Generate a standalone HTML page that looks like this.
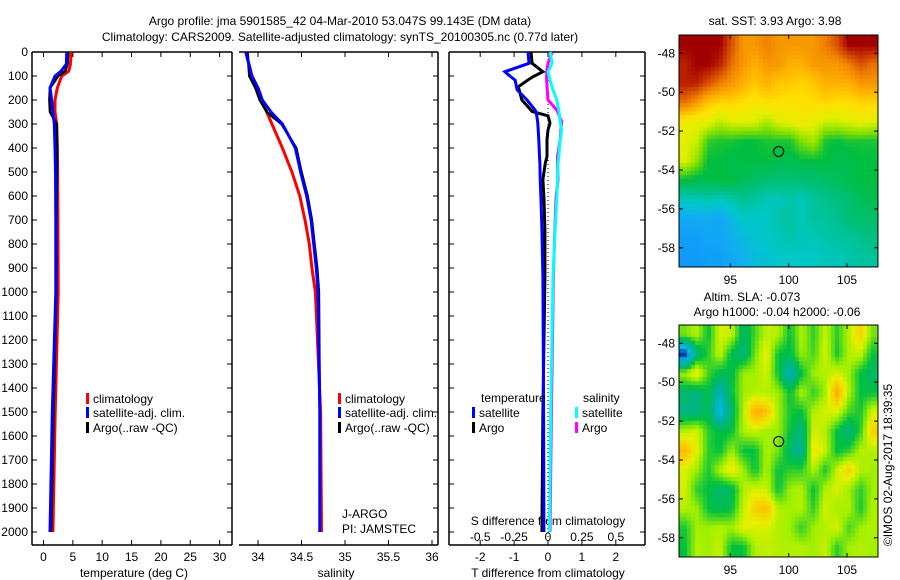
<!DOCTYPE html>
<html><head><meta charset="utf-8"><style>
html,body{margin:0;padding:0;background:#fff;}
#root{position:relative;width:900px;height:580px;overflow:hidden;font-family:"Liberation Sans",sans-serif;}
svg text{font-family:"Liberation Sans",sans-serif;font-size:12px;fill:#000;}
canvas{position:absolute;}
</style></head><body>
<div id="root">
<svg id="svg" width="900" height="580" style="position:absolute;left:0;top:0">
<text x="340" y="25" text-anchor="middle">Argo profile: jma 5901585_42 04-Mar-2010 53.047S 99.143E (DM data)</text>
<text x="340" y="41" text-anchor="middle">Climatology: CARS2009. Satellite-adjusted climatology: synTS_20100305.nc (0.77d later)</text>
</svg>
<canvas id="sst" width="199" height="232" style="left:679px;top:35px"></canvas>
<canvas id="sla" width="199" height="232" style="left:679px;top:325px"></canvas>
<svg id="msvg" width="900" height="580" style="position:absolute;left:0;top:0"></svg>
</div>
<script>
// ---------- data ----------
const depths = [0,50,80,100,150,200,250,300,400,500,700,1000,1500,2000];
const tempClim = [4.7,4.6,4.3,3.1,2.35,1.96,1.96,2.25,2.35,2.4,2.45,2.5,2.0,1.6];
const tempSat  = [3.95,3.9,3.0,1.96,1.1,1.4,1.6,1.84,1.96,2.05,2.1,2.1,1.5,1.1];
const tempArgo = [4.2,4.1,3.7,2.5,1.1,1.0,1.1,2.25,2.35,2.3,2.2,2.2,1.7,1.3];
const salDepths = [0,100,150,200,250,300,400,500,600,700,800,900,1000,1500,2000];
const salClim = [33.86,33.93,34.0,34.05,34.1,34.16,34.28,34.39,34.48,34.54,34.59,34.62,34.66,34.72,34.73];
const salSat  = [33.86,33.93,34.0,34.05,34.15,34.28,34.43,34.49,34.56,34.61,34.64,34.67,34.69,34.71,34.71];
const salArgo = [33.88,33.9,33.97,34.02,34.1,34.27,34.44,34.5,34.57,34.62,34.65,34.68,34.7,34.71,34.71];
const tdDepths = [0,47,82,103,117,145,158,200,242,248,266,296,325,366,435,463,532,604,742,938,1500,2000];
const tdSat  = [-0.59,-0.56,-1.27,-1.1,-0.97,-0.93,-0.91,-0.62,-0.38,-0.36,-0.33,-0.3,-0.29,-0.27,-0.25,-0.24,-0.23,-0.21,-0.18,-0.15,-0.13,-0.12];
const tdArgo = [-0.5,-0.47,-0.15,-0.44,-0.6,-0.88,-0.85,-0.77,-0.5,-0.47,0,0.06,0.0,-0.03,-0.03,-0.08,-0.15,-0.12,-0.09,-0.09,-0.15,-0.18];
const sdDepths = [0,47,82,117,158,200,242,290,325,366,435,463,532,604,742,938,1500,2000];
const sdSat  = [0.015,0.03,0,0.015,0.037,0.066,0.08,0.09,0.10,0.09,0.08,0.074,0.07,0.066,0.052,0.037,0.02,0.01];
const sdArgo = [0.03,0,-0.01,-0.01,-0.005,0,0.066,0.10,0.095,0.09,0.07,0.07,0.074,0.06,0.05,0.04,0.025,0.015];
const depthTicks = [0,100,200,300,400,500,600,700,800,900,1000,1100,1200,1300,1400,1500,1600,1700,1800,1900,2000];
const tTicks = [0,5,10,15,20,25,30];
const sTicks = [34,34.5,35,35.5,36];
const tdTicks = [-2,-1,0,1,2];
const sdTicks = [-0.5,-0.25,0,0.25,0.5];
const sdLabels = ["-0.5","-0.25","0","0.25","0.5"];

// ---------- scales ----------
const Y0=52, Y1=545;
const yD = d => Y0 + d*0.24;
const P1={x0:32,x1:232}, P2={x0:239,x1:438}, P3={x0:449,x1:645};
const xT = t => 43.5 + t*5.87;
const xS = s => 258 + (s-34)*87;
const xTD = t => 548 + t*33.9;
const xSD = s => 548 + s*4*33.9;

const svg=document.getElementById('svg');
const NS='http://www.w3.org/2000/svg';
function mk(tag,attrs,parent){const e=document.createElementNS(NS,tag);for(const k in attrs)e.setAttribute(k,attrs[k]);(parent||svg).appendChild(e);return e;}

function frame(P,name,noLeft){
  const g=mk('g',{});
  
  
  mk('line',{x1:P.x0,x2:P.x1,y1:Y0,y2:Y0,stroke:'#000','stroke-width':1.5},g);
  mk('line',{x1:P.x0,x2:P.x1,y1:Y1,y2:Y1,stroke:'#000','stroke-width':1.5},g);
  mk('line',{x1:P.x1,x2:P.x1,y1:Y0,y2:Y1,stroke:'#000','stroke-width':1.5},g);
  if(!noLeft) mk('line',{x1:P.x0,x2:P.x0,y1:Y0,y2:Y1,stroke:'#000','stroke-width':1.5},g);
  depthTicks.forEach(d=>{
    if(!noLeft) mk('line',{x1:P.x0,x2:P.x0+5,y1:yD(d),y2:yD(d),stroke:'#000'},g);
    mk('line',{x1:P.x1,x2:P.x1-5,y1:yD(d),y2:yD(d),stroke:'#000'},g);
  });
}
frame(P1,'temperature-panel');frame(P2,'salinity-panel',true);frame(P3,'difference-panel');
depthTicks.forEach(d=>{
  const t=mk('text',{x:28,y:yD(d)+4,'text-anchor':'end'});t.textContent=d;
  
  
});
function xticks(ticks,fx,labels,yl,P,top){
  ticks.forEach((v,i)=>{
    const x=fx(v);
    mk('line',{x1:x,x2:x,y1:Y1,y2:Y1-5,stroke:'#000'});
    if(top) mk('line',{x1:x,x2:x,y1:Y0,y2:Y0+5,stroke:'#000'});
    const t=mk('text',{x:x,y:yl,'text-anchor':'middle'});t.textContent=labels?labels[i]:v;
    
    
  });
}
xticks(tTicks,xT,null,561,P1,true);
xticks(sTicks,xS,null,561,P2,true);
xticks(tdTicks,xTD,null,561,P3,true);
sdTicks.forEach((v,i)=>{
  const t=mk('text',{x:xSD(v),y:541,'text-anchor':'middle'});t.textContent=sdLabels[i];
  
  
});
function lab(x,y,s,name,anchor){const t=mk('text',{x:x,y:y,'text-anchor':anchor||'middle'});t.textContent=s;
  
  return t;}
lab(134,577,'temperature (deg C)','x-axis-title-temperature');
lab(336,577,'salinity','x-axis-title-salinity');
lab(548,577,'T difference from climatology','x-axis-title-t-diff');
lab(548,525,'S difference from climatology','s-diff-axis-title');
lab(342,518,'J-ARGO','float-owner','start');
lab(342,533,'PI: JAMSTEC','float-pi','start');

function line(ds,vs,fx,color,w,name,dash){
  const pts=ds.map((d,i)=>fx(vs[i]).toFixed(1)+','+yD(d).toFixed(1)).join(' ');
  const p=mk('polyline',{points:pts,fill:'none',stroke:color,'stroke-width':w,'stroke-linejoin':'miter'});
  if(dash)p.setAttribute('stroke-dasharray',dash);
  
  
}
const zl=mk('line',{x1:548,x2:548,y1:Y0,y2:Y1,stroke:'#000','stroke-dasharray':'1,3'});


line(depths,tempClim,xT,'#f00',3,'temp-climatology-line');
line(depths,tempArgo,xT,'#000',2.5,'temp-argo-line');
line(depths,tempSat,xT,'#00f',3,'temp-satellite-line');
line(salDepths,salClim,xS,'#f00',3,'sal-climatology-line');
line(salDepths,salArgo,xS,'#000',2.5,'sal-argo-line');
line(salDepths,salSat,xS,'#00f',3,'sal-satellite-line');
line(sdDepths,sdArgo,xSD,'#f0f',3,'sal-diff-argo-line');
line(sdDepths,sdSat,xSD,'#0ff',3,'sal-diff-satellite-line');
line(tdDepths,tdArgo,xTD,'#000',3,'temp-diff-argo-line');
line(tdDepths,tdSat,xTD,'#00f',3,'temp-diff-satellite-line');

function legend(x,y,color,text,name){
  const r=mk('rect',{x:x,y:y-9,width:3,height:11,fill:color});
  
  
  lab(x+7,y+1,text,name,'start');
}
[86,338].forEach(x=>{
  legend(x,402,'#f00','climatology','legend-climatology');
  legend(x,416,'#00f','satellite-adj. clim.','legend-satellite');
  legend(x,431,'#000','Argo(..raw -QC)','legend-argo');
});
lab(481,402,'temperature','legend-temperature-header','start');
legend(472,416,'#00f','satellite','legend-t-satellite');
legend(472,431,'#000','Argo','legend-t-argo');
lab(583,402,'salinity','legend-salinity-header','start');
legend(575,416,'#0ff','satellite','legend-s-satellite');
legend(575,431,'#f0f','Argo','legend-s-argo');

// ---------- maps ----------
const sstGrid=[
[7,7,7,7,6.5,6,6,6.2,6,6,6,6,6.2,6.5,7,7,7],
[6.8,7,7,6.8,6.3,6,5.8,6,6,5.8,5.8,6,6,6,6.2,6.5,6.3],
[6.8,6.8,6.5,6.2,6,5.8,5.6,5.8,5.6,5.6,5.5,5.6,5.8,5.8,5.8,6,6],
[6.3,6,5.6,5.5,5.5,5.4,5.3,5.4,5.4,5.3,5.4,5.4,5.5,5.4,5.4,5.5,5.5],
[5.2,5.1,5.1,4.8,5,5,5,4.7,5,5.1,5.2,5.1,4.9,4.9,5,5.1,5],
[5,4.9,4.2,4.1,4.1,4,4,4.1,4.1,4.1,4.5,4.7,4.1,4,4.1,4.1,4.1],
[5,4.6,4,4,3.9,4,4,4,3.9,3.9,4,4,4,3.9,3.9,4,4],
[4,3.9,3.9,4,4,3.8,3.7,3.6,3.6,3.6,3.6,3.6,3.7,3.8,3.9,4,4],
[3.1,3.1,3.2,3.1,3.2,3.4,3.3,3.1,3.1,3.2,3.1,3.3,3.4,3.5,3.6,3.8,3.9],
[2.5,2.5,2.5,2.4,2.8,3,3,3,3.2,3.3,3.1,3.3,3.3,3.4,3.6,3.6,3.7],
[2.3,2.3,2.4,2.4,2.6,2.8,2.9,3,3.1,3.2,3.1,3.1,3.2,3.3,3.3,3.4,3.5],
[2.2,2.2,2.3,2.3,2.5,2.6,2.8,2.9,3,3,3,3,3.1,3.1,3.2,3.3,3.3]];
const slaGrid=[
[0,0.03,-0.05,0.05,0.04,-0.08,-0.02,0.04,0.03,-0.05,0.03,-0.03,0.04,-0.03,0.03,0.1,0],
[-0.3,-0.1,-0.03,0.04,-0.06,-0.1,0,0.07,-0.05,-0.06,0.02,-0.02,0.05,-0.04,0.03,0.04,-0.05],
[0.02,0.08,-0.02,-0.06,-0.06,0.02,0.02,0.05,-0.05,-0.15,-0.05,0.02,0.03,0.05,0.02,-0.05,-0.08],
[-0.08,-0.1,-0.05,-0.15,-0.05,0.02,0.03,0.03,0.02,-0.05,0.03,-0.03,0.02,0.15,0.03,-0.05,-0.05],
[-0.1,-0.1,-0.06,-0.2,-0.08,0.03,0.15,0.12,0.02,-0.04,-0.05,0.03,0.05,0.05,-0.02,-0.04,0.05],
[0.03,0.05,-0.03,-0.06,-0.05,0.03,0.04,0.02,0.02,-0.05,-0.1,0.05,0.03,-0.05,-0.1,-0.03,0.1],
[0.13,0.06,-0.03,-0.05,0.02,-0.05,-0.05,0.03,0,-0.08,-0.12,0.08,0.04,-0.05,-0.03,0.03,0.03],
[0.05,0.02,-0.04,0.03,0.08,0.02,-0.05,0.03,-0.05,-0.03,-0.03,0.03,-0.04,0.04,0.1,0.03,0.02],
[0.05,-0.03,-0.05,-0.08,-0.07,0.03,0.05,0.04,-0.05,0.02,0.03,-0.05,0.03,0.05,0.02,-0.03,0.02],
[0.03,0.02,-0.05,-0.07,-0.05,0.04,0.1,0.12,0.03,0.02,0.03,-0.03,0.05,0.02,0.03,-0.04,0.03],
[-0.04,0.02,0.02,0.03,0.02,0.06,0.05,0.05,0.03,0.02,-0.03,0.02,0.03,0.05,-0.02,0.02,0.03],
[-0.05,0.03,0.02,0.04,-0.05,-0.05,0.03,0.04,0.03,0.03,0.03,0.02,0.04,-0.03,0.02,0.03,0.02]];
const sstStops=[[2.0,[16,144,255]],[2.6,[16,176,240]],[3.0,[0,200,200]],[3.5,[0,192,128]],[4.0,[0,190,64]],[4.5,[128,224,0]],[5.0,[224,240,0]],[5.4,[255,224,0]],[5.8,[255,176,0]],[6.2,[240,128,0]],[6.6,[208,64,0]],[7.0,[160,0,0]]];
const slaStops=[[-0.3,[0,32,160]],[-0.2,[0,192,224]],[-0.12,[0,176,160]],[-0.05,[0,192,64]],[0.02,[160,240,0]],[0.06,[232,240,0]],[0.12,[255,192,0]],[0.2,[255,128,0]]];
function cmap(stops,v){
  if(v<=stops[0][0])return stops[0][1];
  for(let i=1;i<stops.length;i++){if(v<=stops[i][0]){const a=stops[i-1],b=stops[i],f=(v-a[0])/(b[0]-a[0]);return a[1].map((c,k)=>Math.round(c+(b[1][k]-c)*f));}}
  return stops[stops.length-1][1];
}
function drawMap(id,grid,stops){
  const c=document.getElementById(id).getContext('2d');const W=199,H=232,cs=4;
  const R=grid.length,C=grid[0].length;
  for(let y=0;y<H;y+=cs)for(let x=0;x<W;x+=cs){
    const gx=Math.min(Math.max((x+cs/2)/W*C-0.5,0),C-1.001),gy=Math.min(Math.max((y+cs/2)/H*R-0.5,0),R-1.001);
    const i=Math.floor(gy),j=Math.floor(gx),fy=gy-i,fx=gx-j;
    const v=grid[i][j]*(1-fx)*(1-fy)+grid[i][j+1]*fx*(1-fy)+grid[i+1][j]*(1-fx)*fy+grid[i+1][j+1]*fx*fy;
    const col=cmap(stops,v);c.fillStyle='rgb('+col.join(',')+')';c.fillRect(x,y,cs,cs);
  }
}
drawMap('sst',sstGrid,sstStops);drawMap('sla',slaGrid,slaStops);

const latTicks=[-48,-50,-52,-54,-56,-58];
const lonTicks=[95,100,105];
const ms=document.getElementById('msvg');
const xL=l=>679+(l-90.6)*11.67;
function mapAxes(top,name){
  const bottom=top+232;const yL=la=>top+(-47.06-la)*19.45;
  const r=mk('rect',{x:679,y:top,width:199,height:232,fill:'none',stroke:'#000'},ms);
  
  
  latTicks.forEach(la=>{const y=yL(la);
    mk('line',{x1:679,x2:683,y1:y,y2:y,stroke:'#000'},ms);mk('line',{x1:878,x2:874,y1:y,y2:y,stroke:'#000'},ms);
    const t=mk('text',{x:675,y:y+4,'text-anchor':'end'},ms);t.textContent=la;
    
    });
  lonTicks.forEach(lo=>{const x=xL(lo);
    mk('line',{x1:x,x2:x,y1:top,y2:top+4,stroke:'#000'},ms);mk('line',{x1:x,x2:x,y1:bottom,y2:bottom-4,stroke:'#000'},ms);
    const t=mk('text',{x:x,y:bottom+17,'text-anchor':'middle'},ms);t.textContent=lo;
    
    });
  const c=mk('circle',{cx:xL(99.143),cy:yL(-53.047),r:5,fill:'none',stroke:'#000'},ms);
  
  
}
mapAxes(35,'sst-map');mapAxes(325,'sla-map');
function mlab(x,y,s,name,extra){const t=mk('text',Object.assign({x:x,y:y,'text-anchor':'middle'},extra||{}),ms);t.textContent=s;
  
  }
mlab(775,25,'sat. SST: 3.93 Argo: 3.98','sst-map-title');
mlab(752,301,'Altim. SLA: -0.073','sla-map-title');
mlab(777,316,'Argo h1000: -0.04 h2000: -0.06','sla-map-subtitle');
mlab(892,465,'©IMOS 02-Aug-2017 18:39:35','timestamp',{transform:'rotate(-90 892 465)'});
</script>
</body></html>
